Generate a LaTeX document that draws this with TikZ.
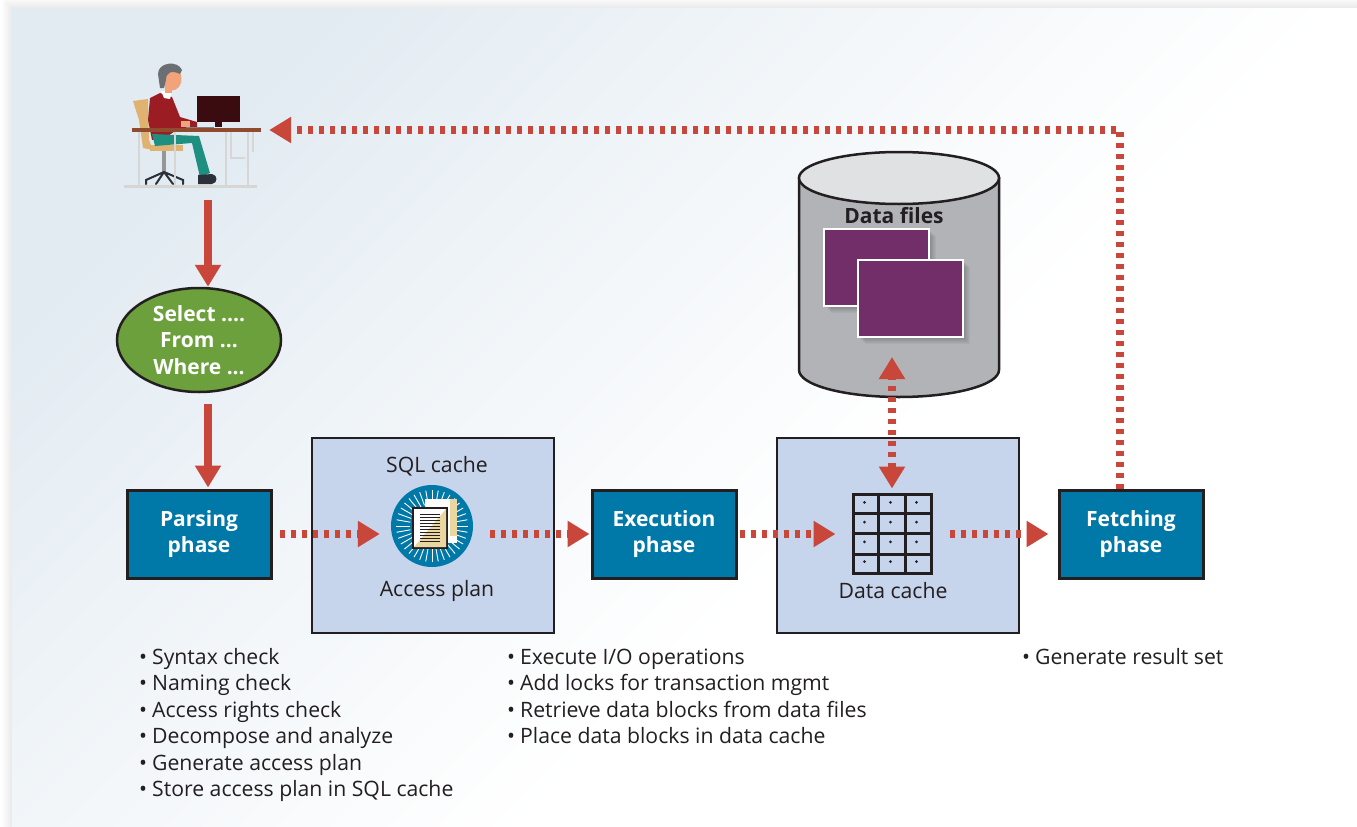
\documentclass[tikz,border=0pt]{standalone}
\usepackage{fontspec}
\setmainfont{Open Sans}
\usetikzlibrary{arrows.meta,shapes.geometric,calc}

\definecolor{flowred}{RGB}{201,70,58}
\definecolor{phaseblue}{RGB}{0,120,168}
\definecolor{cachefill}{RGB}{198,212,236}
\definecolor{querygreen}{RGB}{108,160,60}
\definecolor{inkdark}{RGB}{35,31,32}
\definecolor{cylbody}{RGB}{178,179,182}
\definecolor{cyltop}{RGB}{224,225,227}
\definecolor{filepurple}{RGB}{114,46,105}
\definecolor{washblue}{RGB}{226,235,242}
\definecolor{washmid}{RGB}{242,246,249}
\definecolor{docbeige}{RGB}{236,214,160}
% colours of the user at the desk
\definecolor{sweater}{RGB}{155,28,35}
\definecolor{trousers}{RGB}{31,143,130}
\definecolor{skin}{RGB}{242,163,122}
\definecolor{hair}{RGB}{107,110,114}
\definecolor{chairtan}{RGB}{223,179,111}
\definecolor{deskwood}{RGB}{142,75,48}
\definecolor{deskgray}{RGB}{214,214,214}
\definecolor{screen}{RGB}{58,12,16}
\definecolor{shoe}{RGB}{44,48,57}

\pgfdeclarehorizontalshading{panelwash}{100bp}{color(0bp)=(washblue); color(25bp)=(washblue); color(42bp)=(washmid); color(58bp)=(white); color(100bp)=(white)}

\tikzset{
  phase/.style={draw=inkdark, line width=3pt, fill=phaseblue, minimum width=144pt,
    minimum height=88pt, inner sep=0pt, align=center, text=white,
    font=\bfseries\fontsize{21}{26}\selectfont},
  cachebox/.style={draw=inkdark, line width=2.5pt, fill=cachefill,
    minimum width=242pt, minimum height=195pt},
  boxtext/.style={inner sep=0pt, text=inkdark, font=\fontsize{21.2}{26}\selectfont},
  note/.style={anchor=base west, inner sep=0pt, text=inkdark,
    font=\fontsize{21.2}{26}\selectfont},
  flow/.style={draw=flowred, line width=8pt, ->},
  flowdot/.style={flow, dash pattern=on 5pt off 6pt},
}

\begin{document}
\begin{tikzpicture}[x=1pt, y=-1pt, >={Triangle[length=22pt,width=25pt]}]
\useasboundingbox (0,0) rectangle (1357,827);

% page with the shaded panel and its soft edge
\fill[white] (0,0) rectangle (1357,827);
\foreach \s in {1,...,10}
  \fill[black, opacity=0.009] (12-\s,8-\s) rectangle (1357,827);
\shade[shading=panelwash, shading angle=-45] (12,8) rectangle (1357,827);

% ---------------- user at the desk ----------------
\node[minimum width=144pt, minimum height=124pt, inner sep=0pt] (user) at (197,127) {};
\draw[line width=3pt, deskgray] (124,186) -- (257,186);
% chair
\fill[chairtan] (133,101) -- (148,99) -- (149,140) -- (153,150) -- (143,148) -- (139,120) -- cycle;
\fill[deskgray!70!black] (162,151) rectangle (166,172);
\draw[shoe, line width=2pt, line cap=round] (164,172) -- (146,180) -- (146,184)
  (164,172) -- (183,180) -- (183,184) (164,172) -- (156,184) (164,172) -- (173,184);
% body
\fill[sweater] (150,98) -- (160,93) -- (172,97) -- (180,117) -- (197,122) -- (197,128)
  -- (178,129) -- (165,138) -- (152,140) -- (148,120) -- cycle;
\fill[white] (161,91) -- (172,91) -- (170,99) -- (164,98) -- cycle;
\fill[skin] (181,121) rectangle (190,127);
\fill[skin] (165,86) rectangle (172,93);
\fill[skin] (172,79) ellipse [x radius=9.5, y radius=11.5];
\fill[hair] (160,88) -- (158,74) .. controls (158,62) and (178,60) .. (182,70)
  -- (180,74) .. controls (172,70) and (166,72) .. (166,80) -- (164,88) -- cycle;
% seat and trousers
\fill[chairtan] (150,145) rectangle (183,151);
\fill[trousers] (152,134) -- (199,136) -- (210,173) -- (200,177) -- (192,143) -- (155,146) -- cycle;
\fill[shoe] (198,175) -- (212,174) .. controls (218,175) and (218,183) .. (212,184) -- (198,184) -- cycle;
% screen and desk
\fill[screen] (197,96) rectangle (240,122);
\fill[screen] (215,122) rectangle (222,127);
\draw[deskgray!60!black, line width=1pt] (186,127) -- (214,127);
\fill[deskwood] (132,128) rectangle (261,131.5);
\foreach \lx in {139,175,226,248}
  \draw[line width=2pt, deskgray] (\lx,131.5) -- (\lx,186);
\draw[line width=1.2pt, deskgray] (231,131.5) -- (231,158) -- (245,158);
\draw[line width=1.2pt, deskgray] (253,131.5) -- (253,152);

% ---------------- query and phases ----------------
\node[ellipse, draw=inkdark, line width=2.5pt, fill=querygreen, minimum width=164pt,
  minimum height=104pt, inner sep=0pt, align=center, text=white,
  font=\bfseries\fontsize{21}{26.5}\selectfont] (query) at (199,340)
  {Select ....\\From ...\\Where ...};

\node[phase] (parse) at (199,534) {Parsing\\phase};
\node[cachebox] (sqlcache) at (433,535.5) {};
\node[phase] (exec) at (664,534) {Execution\\phase};
\node[cachebox] (datacache) at (898,535.5) {};
\node[phase] (fetch) at (1131,534) {Fetching\\phase};

\node[boxtext] (sqltitle) at (437,466) {SQL cache};
\node[boxtext] (plantitle) at (437,591) {Access plan};
\node[boxtext] (cachetitle) at (893,591) {Data cache};

% access plan icon
\node[circle, fill=phaseblue, minimum size=82pt, inner sep=0pt] (sqlicon) at (432,526) {};
\begin{scope}[shift={(sqlicon.center)}]
  \foreach \a in {0,10,...,350}
    \draw[white, line width=0.9pt] (\a:22) -- (\a:36);
  \fill[white] (-7,-27) rectangle (25,17);
  \fill[docbeige] (18,-27) rectangle (25,10);
  \filldraw[fill=white, draw=inkdark, line width=2.2pt] (-19,-18) rectangle (15,22);
  \fill[docbeige] (-18,21) -- (14,-17) -- (14,21) -- cycle;
  \foreach \ly in {-12,-9,...,16}
    \draw[inkdark, line width=0.9pt] (-12,\ly) -- (8,\ly);
\end{scope}

% data cache grid
\node[draw=inkdark, line width=3pt, minimum width=78pt, minimum height=79pt,
  inner sep=0pt] (grid) at (892,533.5) {};
\foreach \c in {1,2}
  \draw[inkdark, line width=3pt] ($(grid.north west)!\c/3!(grid.north east)$)
    -- ($(grid.south west)!\c/3!(grid.south east)$);
\foreach \r in {1,2,3}
  \draw[inkdark, line width=3pt] ($(grid.north west)!\r/4!(grid.south west)$)
    -- ($(grid.north east)!\r/4!(grid.south east)$);
\foreach \c in {1,3,5}
  \foreach \r in {1,3,5,7}
    \fill[inkdark] ($(grid.north west)+(\c*13,\r*9.875)$) circle (1.6);

% ---------------- data files ----------------
\filldraw[fill=cylbody, draw=inkdark, line width=2.5pt]
  (799,178) -- (799,370) arc[start angle=180, end angle=0, x radius=100, y radius=27]
  -- (999,178) -- cycle;
\filldraw[fill=cyltop, draw=inkdark, line width=2.5pt]
  (899,178) ellipse [x radius=100, y radius=26];
\node[inner sep=0pt, text=inkdark, font=\bfseries\fontsize{21}{26}\selectfont]
  (files) at (894,216) {Data files};
\foreach \fx/\fy in {824/229, 858/260} {
  \foreach \s in {1,...,7}
    \fill[black, opacity=0.035] (\fx+\s,\fy+\s) rectangle (\fx+105+\s,\fy+77+\s);
  \filldraw[fill=filepurple, draw=white, line width=1.2pt] (\fx,\fy) rectangle (\fx+105,\fy+77);
}
\coordinate (filesbase) at (892,357);

% ---------------- connectors ----------------
\coordinate (drop) at (208,0);
\draw[flow, shorten <=11pt] (user.south -| drop) -- (query.north -| drop);
\draw[flow, shorten <=11pt, shorten >=1pt] (query.south -| drop) -- (parse.north -| drop);

\draw[flowdot, shorten <=7pt, shorten >=11pt] (parse.east) -- (parse.east -| sqlicon.west);
\draw[flowdot, shorten <=17pt, shorten >=1pt] (sqlicon.east |- exec.west) -- (exec.west);
\draw[flowdot, shorten <=2pt, shorten >=16pt] (exec.east) -- (exec.east -| grid.west);
\draw[flowdot, shorten <=17pt, shorten >=9pt] (grid.east |- fetch.west) -- (fetch.west);
\draw[flowdot, <->, shorten <=4pt] (grid.north) -- (filesbase);

% result set goes back to the user
\coordinate (turn) at (1120,130);
\draw[flowdot] (fetch.north -| turn) -- (turn) -- (user.east |- turn);

% ---------------- notes ----------------
\foreach \t [count=\i] in {Syntax check, Naming check, Access rights check,
    Decompose and analyze, Generate access plan, Store access plan in SQL cache}
  \node[note] (parsenote\i) at (139,{664+26.5*(\i-1)}) {•\kern5pt\t};
\foreach \t [count=\i] in {Execute I/O operations, Add locks for transaction mgmt,
    Retrieve data blocks from data files, Place data blocks in data cache}
  \node[note] (execnote\i) at (507,{664+26.5*(\i-1)}) {•\kern5pt\t};
\node[note] (fetchnote) at (1022,664) {•\kern5pt Generate result set};
\end{tikzpicture}
\end{document}
